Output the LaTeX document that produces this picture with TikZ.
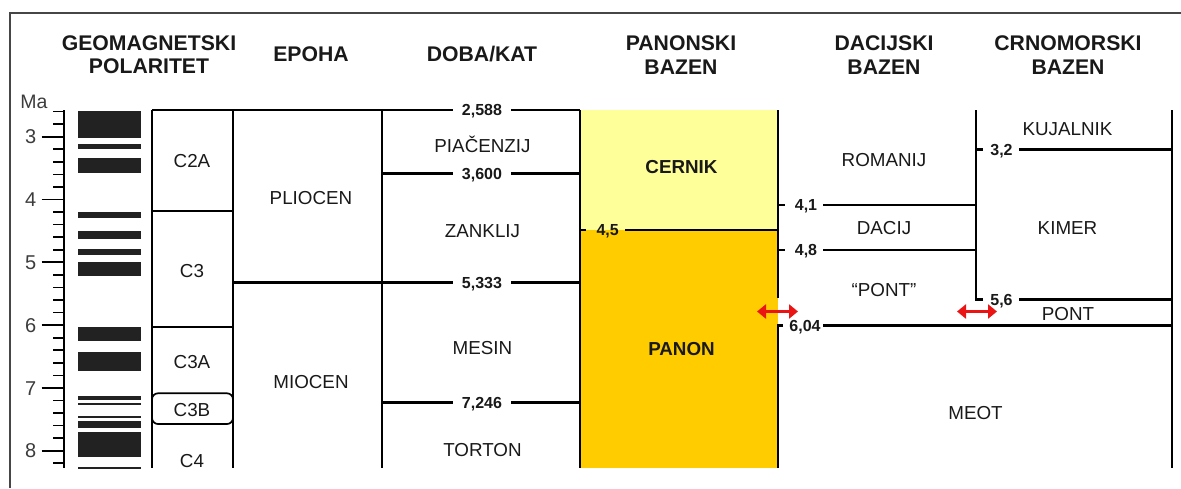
\documentclass[tikz,border=0pt]{standalone}
\usepackage{fontspec}
\setmainfont{Liberation Sans}
\usetikzlibrary{arrows.meta}
\definecolor{cernik}{RGB}{255,255,153}
\definecolor{panon}{RGB}{255,204,0}
\definecolor{polbar}{RGB}{34,34,34}
\definecolor{framecol}{RGB}{70,70,70}
\definecolor{arrowred}{RGB}{235,20,20}
\definecolor{txt}{RGB}{25,25,25}
\definecolor{ticktxt}{RGB}{60,60,60}
\begin{document}
\begin{tikzpicture}[x=1pt,y=-1pt,
  col/.style={line width=2.6pt},
  thinln/.style={line width=1.7pt},
  lab/.style={text=txt,font=\fontsize{18.8}{20}\selectfont, inner sep=0pt, text height=13.4pt, text depth=0pt},
  blab/.style={text=txt,font=\bfseries\fontsize{18.8}{20}\selectfont, inner sep=0pt, text height=13.4pt, text depth=0pt},
  num/.style={text=txt,font=\bfseries\fontsize{16}{17}\selectfont, inner xsep=6pt, inner ysep=0pt, text height=11.4pt, text depth=0pt},
  head/.style={text=txt,font=\bfseries\fontsize{21.2}{23.5}\selectfont, align=center, inner sep=0pt},
  dbl/.style={arrowred, line width=2.8pt, {Triangle[length=9pt,width=14pt]}-{Triangle[length=9pt,width=14pt]}}]
\useasboundingbox (0,0) rectangle (1181,488);
\draw[framecol, line width=1.5pt] (10,488) -- (10,13) -- (1181,13);

% headers
\node[head] (hgeo) at (149,54.5) {GEOMAGNETSKI\\POLARITET};
\node[head] (hep) at (311,54.5) {EPOHA};
\node[head] (hdob) at (482,54.5) {DOBA/KAT};
\node[head] (hpan) at (681,55) {PANONSKI\\BAZEN};
\node[head] (hdac) at (884,55) {DACIJSKI\\BAZEN};
\node[head] (hcrn) at (1068,55) {CRNOMORSKI\\BAZEN};

% time scale
\node[lab, text=ticktxt, font=\fontsize{19.5}{20}\selectfont] (ma) at (34,102) {Ma};
\draw[line width=2pt] (64.3,110) -- (64.3,468);
\foreach \i in {0,...,28} {
  \pgfmathsetmacro\yy{111.6+\i*12.56}
  \draw[thinln] (53,\yy) -- (64.3,\yy);
}
\foreach \m [count=\k from 0] in {3,...,8} {
  \pgfmathsetmacro\yy{136.7+\k*62.8}
  \draw[thinln] (41.7,\yy) -- (64.3,\yy);
  \node[lab, text=ticktxt, font=\fontsize{20}{20}\selectfont, text height=14.3pt, anchor=east] (t\m) at (36.5,\yy) {\m};
}

% polarity bars
\foreach \a/\b in {110.7/138.3, 144.3/149.3, 157.7/173.3, 211.7/218.3, 230.7/238.7, 249.3/255.3, 262.3/276, 327.3/340.7, 352.3/370.7, 396.3/400, 403/405, 416/418, 421/427.7, 431.7/456.7, 466.7/469}
  \fill[polbar] (78,\a) rectangle (140.7,\b);

% chron column
\draw[col] (152,110) -- (152,468);
\draw[line width=2pt] (233,110) -- (233,468);
\draw[thinln] (152,211) -- (233,211);
\draw[thinln] (152,327.3) -- (233,327.3);
\draw[thinln, rounded corners=6pt] (152,393.3) rectangle (233,424);
\node[lab] (c2a) at (192,161) {C2A};
\node[lab] (c3) at (192,271) {C3};
\node[lab] (c3a) at (192,362) {C3A};
\node[lab] (c3b) at (192,410) {C3B};
\node[lab] (c4) at (192,461) {C4};

% epoha
\node[lab] (plio) at (311,198) {PLIOCEN};
\node[lab] (mio) at (311,382) {MIOCEN};
\draw[col] (382,110) -- (382,468);

% doba/kat
\node[num, inner xsep=9pt] (n2588) at (482,110) {2,588};
\draw[col] (152,110) -- (n2588.west);
\draw[col] (n2588.east) -- (580,110);
\node[num, inner xsep=9pt] (n3600) at (482,173.5) {3,600};
\draw[col] (382,173.5) -- (n3600.west);
\draw[col] (n3600.east) -- (580,173.5);
\node[num, inner xsep=9pt] (n5333) at (482,282.7) {5,333};
\draw[col] (233,282.7) -- (n5333.west);
\draw[col] (n5333.east) -- (580,282.7);
\node[num, inner xsep=9pt] (n7246) at (482,402.3) {7,246};
\draw[col] (382,402.3) -- (n7246.west);
\draw[col] (n7246.east) -- (580,402.3);
\node[lab] (piac) at (482.5,145.5) {PIAČENZIJ};
\node[lab] (zank) at (482.5,231) {ZANKLIJ};
\node[lab] (mesin) at (482.5,347.5) {MESIN};
\node[lab] (tort) at (482.5,449.5) {TORTON};

% panonski
\fill[cernik] (580,110) rectangle (778,230);
\fill[panon] (580,230) rectangle (778,468);
\draw[col] (580,110) -- (580,468);
\draw[col] (778,110) -- (778,298.3);
\node[num] (n45) at (607.7,230) {4,5};
\draw[col] (580,230) -- (586,230);
\draw[col] (n45.east) -- (778,230);
\node[blab] (cern) at (681.5,167) {CERNIK};
\node[blab] (pan) at (681.5,348.3) {PANON};

% dacijski
\draw[col] (778,205) -- (785,205);
\node[num] (n41) at (806,205) {4,1};
\draw[col] (n41.east) -- (976,205);
\draw[col] (778,250) -- (785,250);
\node[num] (n48) at (806,250) {4,8};
\draw[col] (n48.east) -- (976,250);
\node[num, inner xsep=2.5pt] (n604) at (805,325.7) {6,04};
\draw[col] (783,325.7) -- (778,325.7) -- (778,468);
\draw[col] (n604.east) -- (1172,325.7);
\node[lab] (rom) at (884,160) {ROMANIJ};
\node[lab] (dac) at (884,228) {DACIJ};
\node[lab] (pont1) at (884,290) {“PONT”};
\node[lab] (meot) at (975.5,412.5) {MEOT};

% crnomorski
\draw[col] (983,299.5) -- (976,299.5) -- (976,110);
\node[num] (n56) at (1001.5,299.5) {5,6};
\draw[col] (n56.east) -- (1172,299.5);
\draw[col] (976,149.3) -- (983,149.3);
\node[num] (n32) at (1001.5,149.3) {3,2};
\draw[col] (n32.east) -- (1172,149.3);
\draw[col] (1172,110) -- (1172,468);
\node[lab] (kuj) at (1067.5,128.5) {KUJALNIK};
\node[lab] (kim) at (1067.5,228) {KIMER};
\node[lab] (pont2) at (1068,314) {PONT};

% arrows
\coordinate (a1l) at (757,311.5);
\coordinate (a1r) at (798,311.5);
\draw[dbl] (a1l) -- (a1r);
\coordinate (a2l) at (957,311.5);
\coordinate (a2r) at (997,311.5);
\draw[dbl] (a2l) -- (a2r);
\end{tikzpicture}
\end{document}
